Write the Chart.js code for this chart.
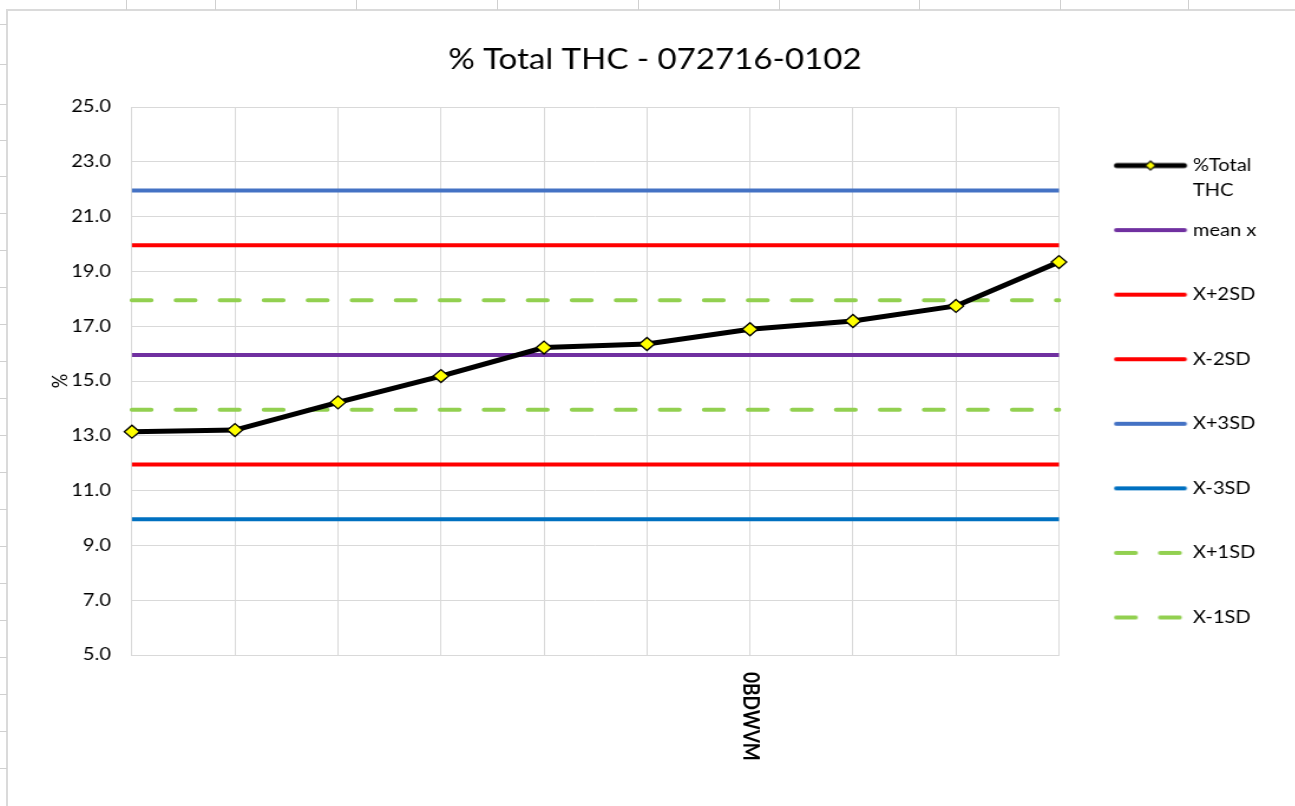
<!DOCTYPE html>
<html>
<head>
<meta charset="utf-8">
<title>% Total THC - 072716-0102</title>
<script src="https://cdn.jsdelivr.net/npm/chart.js@4.4.0/dist/chart.umd.min.js"></script>
<style>
  html, body { margin: 0; padding: 0; background: #fff; overflow: hidden; }
  body { width: 1295px; height: 806px; position: relative; }
  .cellV { position: absolute; top: 0; width: 1px; height: 10px; background: #d0d0d0; }
  .cellH { position: absolute; left: 0; width: 7px; height: 1px; background: #d0d0d0; }
  #frame { position: absolute; left: 6px; top: 9px; width: 1400px; height: 900px;
           border-left: 2px solid #dadada; border-top: 2px solid #dadada; }
  #chart { position: absolute; left: 7px; top: 10px; transform: scaleX(1.18); transform-origin: 0 0; }
</style>
</head>
<body>
<div id="frame"></div>
<canvas id="chart" width="1098" height="796"></canvas>
<script>
// sheet cells around the embedded chart
var cellCols = [126, 215, 356, 497, 638, 779, 919, 1060, 1188];
var cellRows = [24, 64, 104, 140, 176, 213, 250, 287, 324, 361, 398, 435, 472, 509, 546, 583, 620, 657, 694, 731, 768];
cellCols.forEach(function (x) {
    var d = document.createElement('div');
    d.className = 'cellV'; d.style.left = x + 'px';
    document.body.appendChild(d);
});
cellRows.forEach(function (y) {
    var d = document.createElement('div');
    d.className = 'cellH'; d.style.top = y + 'px';
    document.body.appendChild(d);
});

// data
var categories = ['', '', '', '', '', '', '0BDWVM', '', '', ''];
var totalThc = [13.15, 13.21, 14.22, 15.18, 16.22, 16.35, 16.89, 17.19, 17.74, 19.34];
var meanX    = [15.95, 15.95, 15.95, 15.95, 15.95, 15.95, 15.95, 15.95, 15.95, 15.95];
var plus2SD  = [19.95, 19.95, 19.95, 19.95, 19.95, 19.95, 19.95, 19.95, 19.95, 19.95];
var minus2SD = [11.95, 11.95, 11.95, 11.95, 11.95, 11.95, 11.95, 11.95, 11.95, 11.95];
var plus3SD  = [21.95, 21.95, 21.95, 21.95, 21.95, 21.95, 21.95, 21.95, 21.95, 21.95];
var minus3SD = [9.95, 9.95, 9.95, 9.95, 9.95, 9.95, 9.95, 9.95, 9.95, 9.95];
var plus1SD  = [17.95, 17.95, 17.95, 17.95, 17.95, 17.95, 17.95, 17.95, 17.95, 17.95];
var minus1SD = [13.95, 13.95, 13.95, 13.95, 13.95, 13.95, 13.95, 13.95, 13.95, 13.95];
var seriesNames = ['%Total THC', 'mean x', 'X+2SD', 'X-2SD', 'X+3SD', 'X-3SD', 'X+1SD', 'X-1SD'];
var legendLines = [['%Total', 'THC'], ['mean x', ''], ['X+2SD', ''], ['X-2SD', ''], ['X+3SD', ''], ['X-3SD', ''], ['X+1SD', ''], ['X-1SD', '']];
var yMin = 5, yMax = 25, yStep = 2;

var seriesData = [totalThc, meanX, plus2SD, minus2SD, plus3SD, minus3SD, plus1SD, minus1SD];
var seriesColors = ['#000000', '#7030A0', '#FF0000', '#FF0000', '#4472C4', '#0070C0', '#92D050', '#92D050'];
var seriesDashed = [false, false, false, false, false, false, true, true];
var dash = [16.3, 21];

Chart.defaults.font.family = 'Lato';
Chart.defaults.color = '#000';

// layout numbers (canvas units before the horizontal stretch)
var canvasW = 1098, plotRight = 891.5, plotLeft = 105.9, yTitleX = 44.9;
var legendPad = 14.57, legendBox = 90.4, legendFont = 17;

// legend width the way Chart.js measures it, so left/right padding can be equal
var mctx = document.createElement('canvas').getContext('2d');
mctx.font = legendFont + 'px Lato';
var widest = 0;
legendLines.forEach(function (lines) {
    var t = lines.reduce(function (a, b) { return a.length > b.length ? a : b; });
    widest = Math.max(widest, legendBox + legendFont / 2 + mctx.measureText(t).width);
});
var legendW = legendPad + widest + 10;
var sidePad = canvasW - plotRight - legendW;

// legend line samples (line + optional diamond)
function legendSample(color, dashed, marker) {
    var c = document.createElement('canvas');
    c.width = 100; c.height = 20;
    var g = c.getContext('2d');
    g.strokeStyle = color;
    g.lineWidth = marker ? 5 : 4;
    g.lineCap = 'round';
    if (dashed) g.setLineDash(dash);
    g.beginPath();
    g.moveTo(marker ? 39.3 : 38.8, 10);
    g.lineTo(marker ? 96.2 : 96.7, 10);
    g.stroke();
    if (marker) {
        var cx = 67.75, cy = 10, r = 4.5;
        g.setLineDash([]);
        g.beginPath();
        g.moveTo(cx, cy - r); g.lineTo(cx + r, cy); g.lineTo(cx, cy + r); g.lineTo(cx - r, cy);
        g.closePath();
        g.fillStyle = '#FFFF00';
        g.fill();
        g.lineWidth = 1.2;
        g.strokeStyle = '#000';
        g.stroke();
    }
    return c;
}
var legendSamples = seriesNames.map(function (n, i) {
    return legendSample(seriesColors[i], seriesDashed[i], i === 0);
});

var datasets = seriesNames.map(function (name, i) {
    var ds = {
        label: name,
        data: seriesData[i],
        borderColor: seriesColors[i],
        backgroundColor: seriesColors[i],
        borderWidth: 4,
        pointRadius: 0,
        tension: 0,
        fill: false
    };
    if (seriesDashed[i]) {
        ds.borderDash = dash;
        ds.borderCapStyle = 'round';
    }
    if (i === 0) {
        ds.borderWidth = 5;
        ds.pointStyle = 'rectRot';
        ds.pointRadius = 6.5;
        ds.pointBackgroundColor = '#FFFF00';
        ds.pointBorderColor = '#000';
        ds.pointBorderWidth = 1.3;
    }
    return ds;
});

// vertical category labels, read top to bottom
var xLabelPlugin = {
    id: 'xLabels',
    afterDraw: function (chart) {
        var xs = chart.scales.x, ctx = chart.ctx;
        ctx.save();
        ctx.font = 'bold 19px Lato';
        ctx.fillStyle = '#000';
        ctx.textAlign = 'left';
        ctx.textBaseline = 'middle';
        categories.forEach(function (lab, i) {
            if (!lab) return;
            ctx.save();
            ctx.translate(xs.getPixelForValue(i), chart.chartArea.bottom + 17);
            ctx.rotate(Math.PI / 2);
            ctx.fillText(lab, 0, 0);
            ctx.restore();
        });
        ctx.restore();
    }
};

new Chart(document.getElementById('chart'), {
    type: 'line',
    data: { labels: categories, datasets: datasets },
    plugins: [xLabelPlugin],
    options: {
        responsive: false,
        devicePixelRatio: 1,
        animation: false,
        layout: { padding: { left: sidePad, right: sidePad, top: 0, bottom: 0 } },
        plugins: {
            title: {
                display: true,
                text: '% Total THC - 072716-0102',
                color: '#000',
                font: { size: 28, weight: 'normal' },
                padding: { top: 33.2, bottom: 30.2 }
            },
            legend: {
                position: 'right',
                labels: {
                    usePointStyle: true,
                    pointStyleWidth: legendBox,
                    padding: legendPad,
                    color: '#000',
                    font: { size: legendFont, lineHeight: '25px' },
                    generateLabels: function (chart) {
                        return chart.data.datasets.map(function (ds, i) {
                            return {
                                text: legendLines[i],
                                pointStyle: legendSamples[i],
                                datasetIndex: i,
                                hidden: false,
                                lineWidth: 0,
                                strokeStyle: 'rgba(0,0,0,0)',
                                fillStyle: 'rgba(0,0,0,0)',
                                fontColor: '#000'
                            };
                        });
                    }
                }
            },
            tooltip: { enabled: false }
        },
        scales: {
            x: {
                offset: false,
                grid: { color: '#d9d9d9', drawTicks: false },
                border: { color: '#d9d9d9' },
                ticks: { display: false },
                afterFit: function (s) { s.height = 151; }
            },
            y: {
                min: yMin,
                max: yMax,
                grid: { color: '#d9d9d9', drawTicks: false },
                border: { color: '#d9d9d9' },
                ticks: {
                    stepSize: yStep,
                    padding: 17.8,
                    color: '#000',
                    font: { size: 17 },
                    callback: function (v) { return v.toFixed(1); }
                },
                title: {
                    display: true, text: '%', color: '#000', font: { size: 18 },
                    padding: { top: Math.max(0, yTitleX - 10.8 - sidePad), bottom: 0 }
                },
                afterFit: function (s) { s.width = plotLeft - sidePad; }
            }
        }
    }
});
</script>
</body>
</html>
